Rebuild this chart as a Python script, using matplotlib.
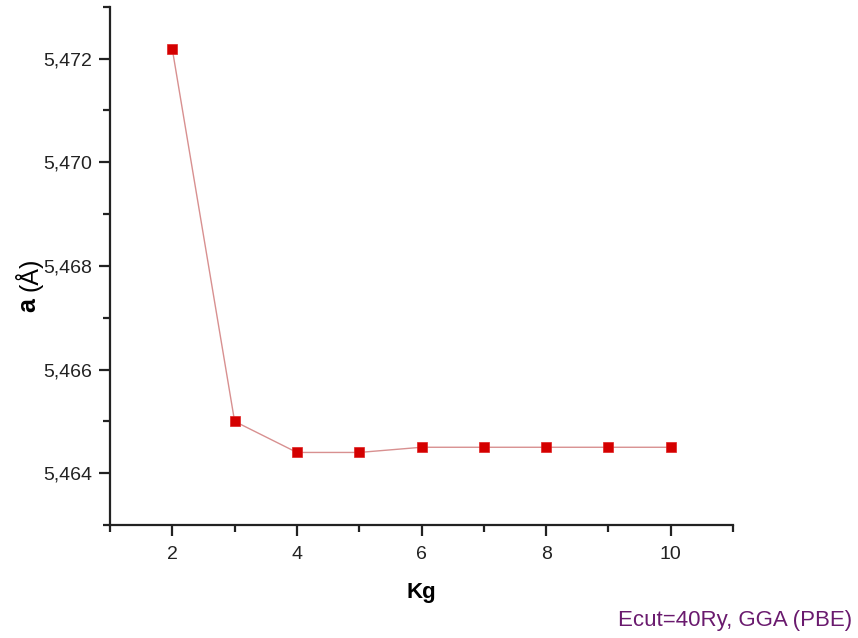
import matplotlib
matplotlib.use("Agg")
import matplotlib.pyplot as plt
from matplotlib.ticker import FuncFormatter, MultipleLocator

plt.rcParams['font.family'] = ['Liberation Sans', 'DejaVu Sans']

kg = [2, 3, 4, 5, 6, 7, 8, 9, 10]
a_vals = [5.47218, 5.4650, 5.4644, 5.4644, 5.4645, 5.4645, 5.4645, 5.4645, 5.4645]
x_ticks = [2, 4, 6, 8, 10]
y_ticks = [5.464, 5.466, 5.468, 5.470, 5.472]

W, H = 858, 638
fig = plt.figure(figsize=(W / 100, H / 100), dpi=100)
ax = fig.add_axes([0.1282, 0.1771, 0.7262, 0.8124])

ax.plot(kg, a_vals, color='#d89090', lw=1.0, marker='s', markersize=6.5,
        markerfacecolor='#d40000', markeredgecolor='#e02020', markeredgewidth=0.5)

ax.set_xlim(1, 11)
ax.set_ylim(5.463, 5.473)
ax.set_xticks(x_ticks)
ax.set_yticks(y_ticks)
ax.xaxis.set_minor_locator(MultipleLocator(1))
ax.yaxis.set_minor_locator(MultipleLocator(0.001))
ax.yaxis.set_major_formatter(FuncFormatter(lambda v, p: f"{v:.3f}".replace('.', ',')))

for s in ['top', 'right']:
    ax.spines[s].set_visible(False)
for s in ['left', 'bottom']:
    ax.spines[s].set_linewidth(1.6)
    ax.spines[s].set_color('#222222')

ax.tick_params(which='major', direction='out', length=8, width=1.6, labelsize=14,
               colors='#222222')
ax.tick_params(axis='x', which='major', pad=7)
ax.tick_params(axis='y', which='major', pad=5)
ax.tick_params(which='minor', direction='out', length=5, width=1.6, colors='#222222')

ax.set_xlabel('Kg', fontsize=16, fontweight='bold', labelpad=14)

# y label: bold "a" followed by regular "(Å)", rotated
xc = 28 / W
t1 = fig.text(xc, 1 - 312 / H, 'a', rotation=90, fontsize=18, fontweight='bold',
              ha='center', va='bottom')
fig.canvas.draw()
r = fig.canvas.get_renderer()
bb = t1.get_window_extent(r)
fig.text(xc, (bb.y1 + 7) / H, '(Å)', rotation=90, fontsize=18,
         ha='center', va='bottom')

fig.text(0.993, 0.028, 'Ecut=40Ry, GGA (PBE)', color='#6a1a6e', fontsize=16,
         ha='right', va='center')

fig.savefig('out.png', dpi=100)
